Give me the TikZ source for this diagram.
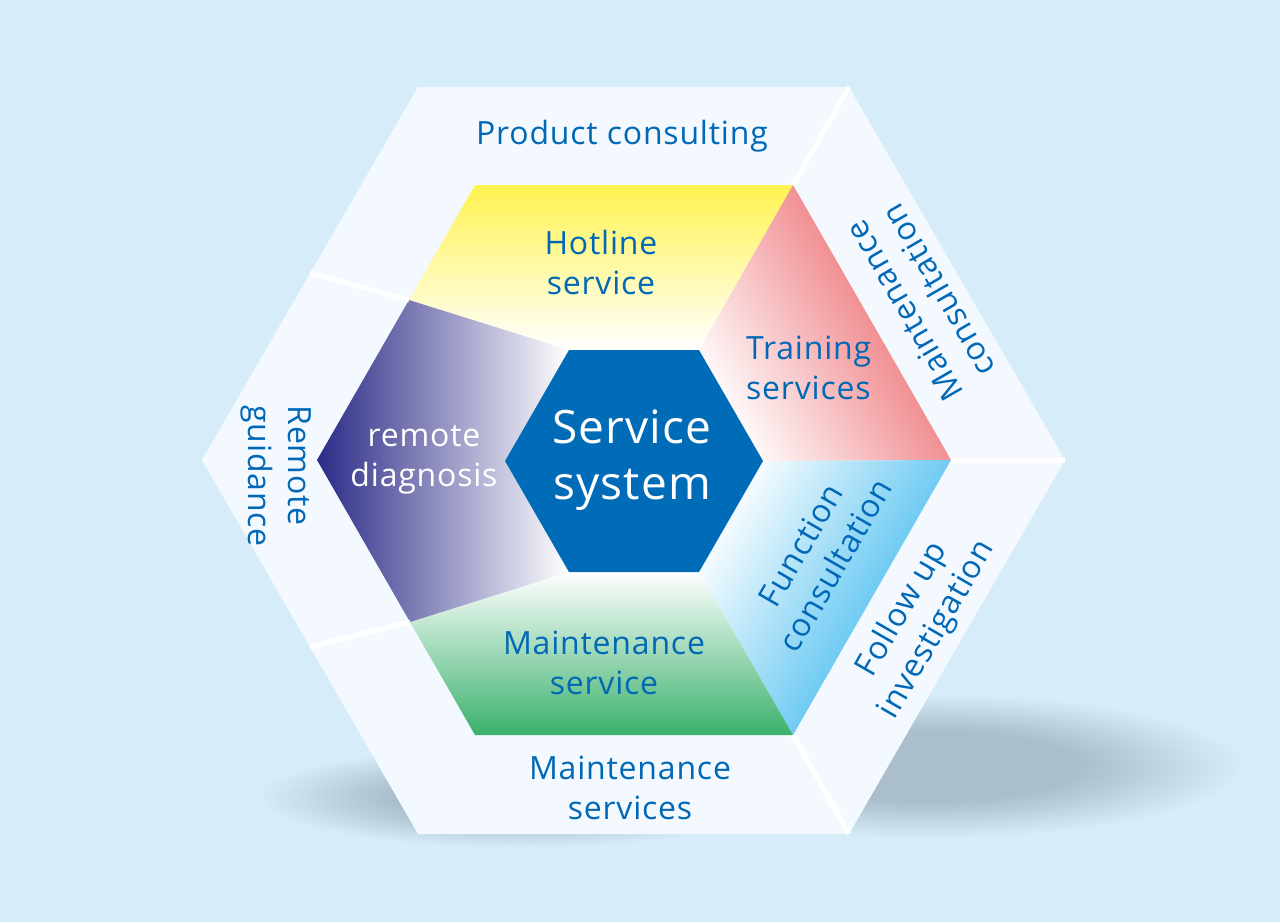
\documentclass[tikz,border=0pt]{standalone}
\usepackage{fontspec}
\setmainfont{Open Sans}[LetterSpace=2.5]
\usetikzlibrary{fadings}
\definecolor{bgc}{RGB}{214,237,249}
\definecolor{ringc}{RGB}{243,249,254}
\definecolor{shadowc}{RGB}{170,190,203}
\definecolor{hexc}{RGB}{0,108,183}
\definecolor{textblue}{RGB}{0,104,182}
\definecolor{yellowc}{RGB}{255,243,80}
\definecolor{redc}{RGB}{239,128,132}
\definecolor{bluec}{RGB}{90,195,241}
\definecolor{greenc}{RGB}{58,177,108}
\definecolor{purplec}{RGB}{43,42,135}
\pgfdeclareradialshading{softblobshade}{\pgfpointorigin}{color(0bp)=(pgftransparent!0); color(12bp)=(pgftransparent!0); color(25bp)=(pgftransparent!100); color(50bp)=(pgftransparent!100)}
\pgfdeclarefading{softblob}{\pgfuseshading{softblobshade}}
\pgfdeclareverticalshading{redfade}{100bp}{color(0bp)=(white); color(24bp)=(white); color(63bp)=(redc); color(100bp)=(redc)}
\pgfdeclareverticalshading{bluefade}{100bp}{color(0bp)=(white); color(24bp)=(white); color(63bp)=(bluec); color(100bp)=(bluec)}
\tikzset{
  lbl/.style={text=textblue, font=\fontsize{32}{40}\selectfont, align=center, inner sep=0pt},
  divider/.style={white, line width=5pt}
}
\begin{document}
\begin{tikzpicture}[x=1pt, y=-1pt]
	\useasboundingbox (0,0) rectangle (1280,922);
	\fill[bgc] (0,0) rectangle (1280,922);
	
	\fill[shadowc, path fading=softblob] (925,766) ellipse [x radius=315, y radius=72];
	\fill[shadowc, path fading=softblob] (520,797) ellipse [x radius=260, y radius=50];
	
	\fill[ringc] (202,460) -- (418,87) -- (849,87) -- (1065,460) -- (849,834) -- (418,834) -- cycle;
	
	\shade[top color=yellowc, bottom color=white] (409,300) -- (475,185) -- (793,185) -- (699,350) -- (569,350) -- cycle;
	\shade[shading=redfade, shading angle=-60] (793,185) -- (951,460) -- (763,461) -- (699,350) -- cycle;
	\shade[shading=bluefade, shading angle=-120] (763,461) -- (951,460) -- (793,735) -- (699,572) -- cycle;
	\shade[top color=white, bottom color=greenc] (569,572) -- (699,572) -- (793,735) -- (475,735) -- (410,622) -- cycle;
	\shade[left color=purplec, right color=white] (409,300) -- (569,350) -- (505,461) -- (569,572) -- (410,622) -- (317,460) -- cycle;
	
	\fill[hexc] (505,461) -- (569,350) -- (699,350) -- (763,461) -- (699,572) -- (569,572) -- cycle;
	
	\begin{scope}[divider]
		\draw (310,273) -- (409,300);
		\draw (849,87) -- (793,185);
		\draw (1065,460) -- (951,460);
		\draw (849,834) -- (793,735);
		\draw (310,647) -- (410,622);
	\end{scope}
	
	\node[lbl] (product) at (622,136) {Product consulting};
	\node[lbl] (hotline) at (601,262) {Hotline\\service};
	\node[lbl, align=left, anchor=west] (training) at (746,368) {Training\\services};
	\node[lbl, rotate=120] (mconsult) at (921,301) {Maintenance\\consultation};
	\node[lbl, rotate=60] (function) at (818,555) {Function\\consultation};
	\node[lbl, rotate=60] (follow) at (920,620) {Follow up\\investigation};
	\node[lbl] (mservice) at (604,663) {Maintenance\\service};
	\node[lbl] (mservices) at (630,788) {Maintenance\\services};
	\node[lbl, rotate=-90, align=left] (guidance) at (276,476) {Remote\\guidance};
	\node[lbl, text=white] (diagnosis) at (424,460) {remote\\diagnosis};
	\node[lbl, text=white, font=\fontsize{46}{56}\selectfont] (core) at (632,460) {Service\\system};
\end{tikzpicture}
\end{document}
